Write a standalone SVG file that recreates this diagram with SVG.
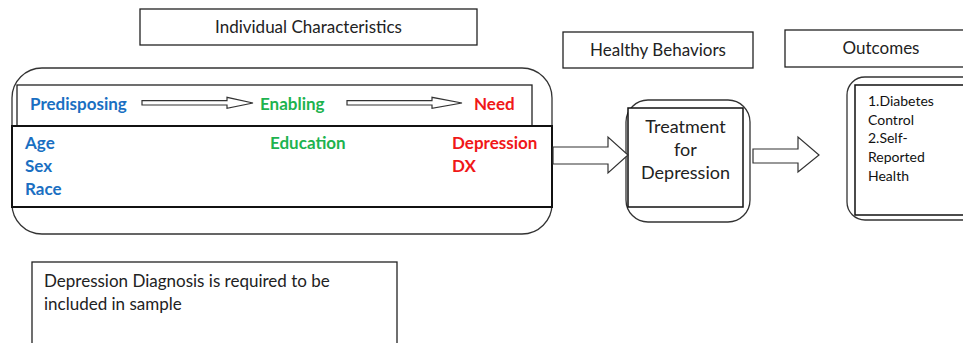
<svg xmlns="http://www.w3.org/2000/svg" width="963" height="343" viewBox="0 0 963 343">
<style>
.box{fill:#fff;stroke:#222;stroke-width:1.3}
.thick{fill:#fff;stroke:#111;stroke-width:2}
.round{fill:#fff;stroke:#333;stroke-width:1.3}
.arrow{fill:#fff;stroke:#333;stroke-width:1.2}
.t{font-family:Lato,"Open Sans","Liberation Sans",sans-serif;font-size:17px;fill:#222}
.b{font-family:Lato,"Open Sans","Liberation Sans",sans-serif;font-size:17px;font-weight:bold}
.blue{fill:#1a6fc2}.green{fill:#1db34f}.red{fill:#f01818}
.s{font-family:Lato,"Open Sans","Liberation Sans",sans-serif;font-size:14px;fill:#111}
</style>
<rect width="963" height="343" fill="#fff"/>
<g id="individual-characteristics-label">
<rect class="box" x="140" y="9" width="337" height="36"/>
<text class="t" x="308.5" y="33" text-anchor="middle">Individual Characteristics</text>
</g>
<g id="healthy-behaviors-label">
<rect class="box" x="563" y="32" width="190" height="36"/>
<text class="t" x="658" y="56" text-anchor="middle">Healthy Behaviors</text>
</g>
<g id="outcomes-label">
<rect class="box" x="785" y="30" width="185" height="37"/>
<text class="t" x="881" y="54" text-anchor="middle">Outcomes</text>
</g>
<g id="individual-characteristics">
<rect class="round" x="12" y="68" width="540" height="166" rx="30"/>
<rect class="box" x="17" y="85" width="515" height="41"/>
<rect class="thick" x="12" y="126" width="540" height="81"/>
<text class="b blue" x="30" y="110">Predisposing</text>
<text class="b green" x="260" y="110">Enabling</text>
<text class="b red" x="474" y="110">Need</text>
<text class="b blue" x="25" y="149">Age</text>
<text class="b blue" x="25" y="172">Sex</text>
<text class="b blue" x="25" y="195">Race</text>
<text class="b green" x="270" y="149">Education</text>
<text class="b red" x="452" y="149">Depression</text>
<text class="b red" x="452" y="172">DX</text>
</g>
<g id="treatment">
<rect class="round" x="626" y="100" width="124" height="122" rx="22"/>
<rect class="thick" x="628" y="108" width="115" height="99" style="stroke-width:1.5"/>
<text class="t" x="685.5" y="133" text-anchor="middle" style="font-size:18px">Treatment</text>
<text class="t" x="685.5" y="156" text-anchor="middle" style="font-size:18px">for</text>
<text class="t" x="685.5" y="179" text-anchor="middle" style="font-size:18px">Depression</text>
</g>
<g id="outcomes">
<rect class="round" x="847" y="77" width="140" height="143" rx="18"/>
<rect class="thick" x="855" y="85" width="130" height="130" style="stroke-width:1.5"/>
<text class="s" x="868" y="106">1.Diabetes</text>
<text class="s" x="868" y="125">Control</text>
<text class="s" x="868" y="143">2.Self-</text>
<text class="s" x="868" y="162">Reported</text>
<text class="s" x="868" y="181">Health</text>
</g>
<g id="note">
<rect class="box" x="32" y="262" width="365" height="90"/>
<text class="t" x="44" y="287">Depression Diagnosis is required to be</text>
<text class="t" x="44" y="310">included in sample</text>
</g>
<g id="connectors">
<path class="arrow" d="M142,100.7 H227 V97.3 L253,103 L227,108.3 V105 H142 Z"/>
<path class="arrow" d="M347,100.7 H432 V97.3 L462,103 L432,108.3 V105 H347 Z"/>
<path class="arrow" d="M553,147 H608 V137 L628,155 L608,173 V164 H553 Z"/>
<path class="arrow" d="M753,149 H798 V137 L819,155 L798,172 V163 H753 Z"/>
</g>
</svg>
